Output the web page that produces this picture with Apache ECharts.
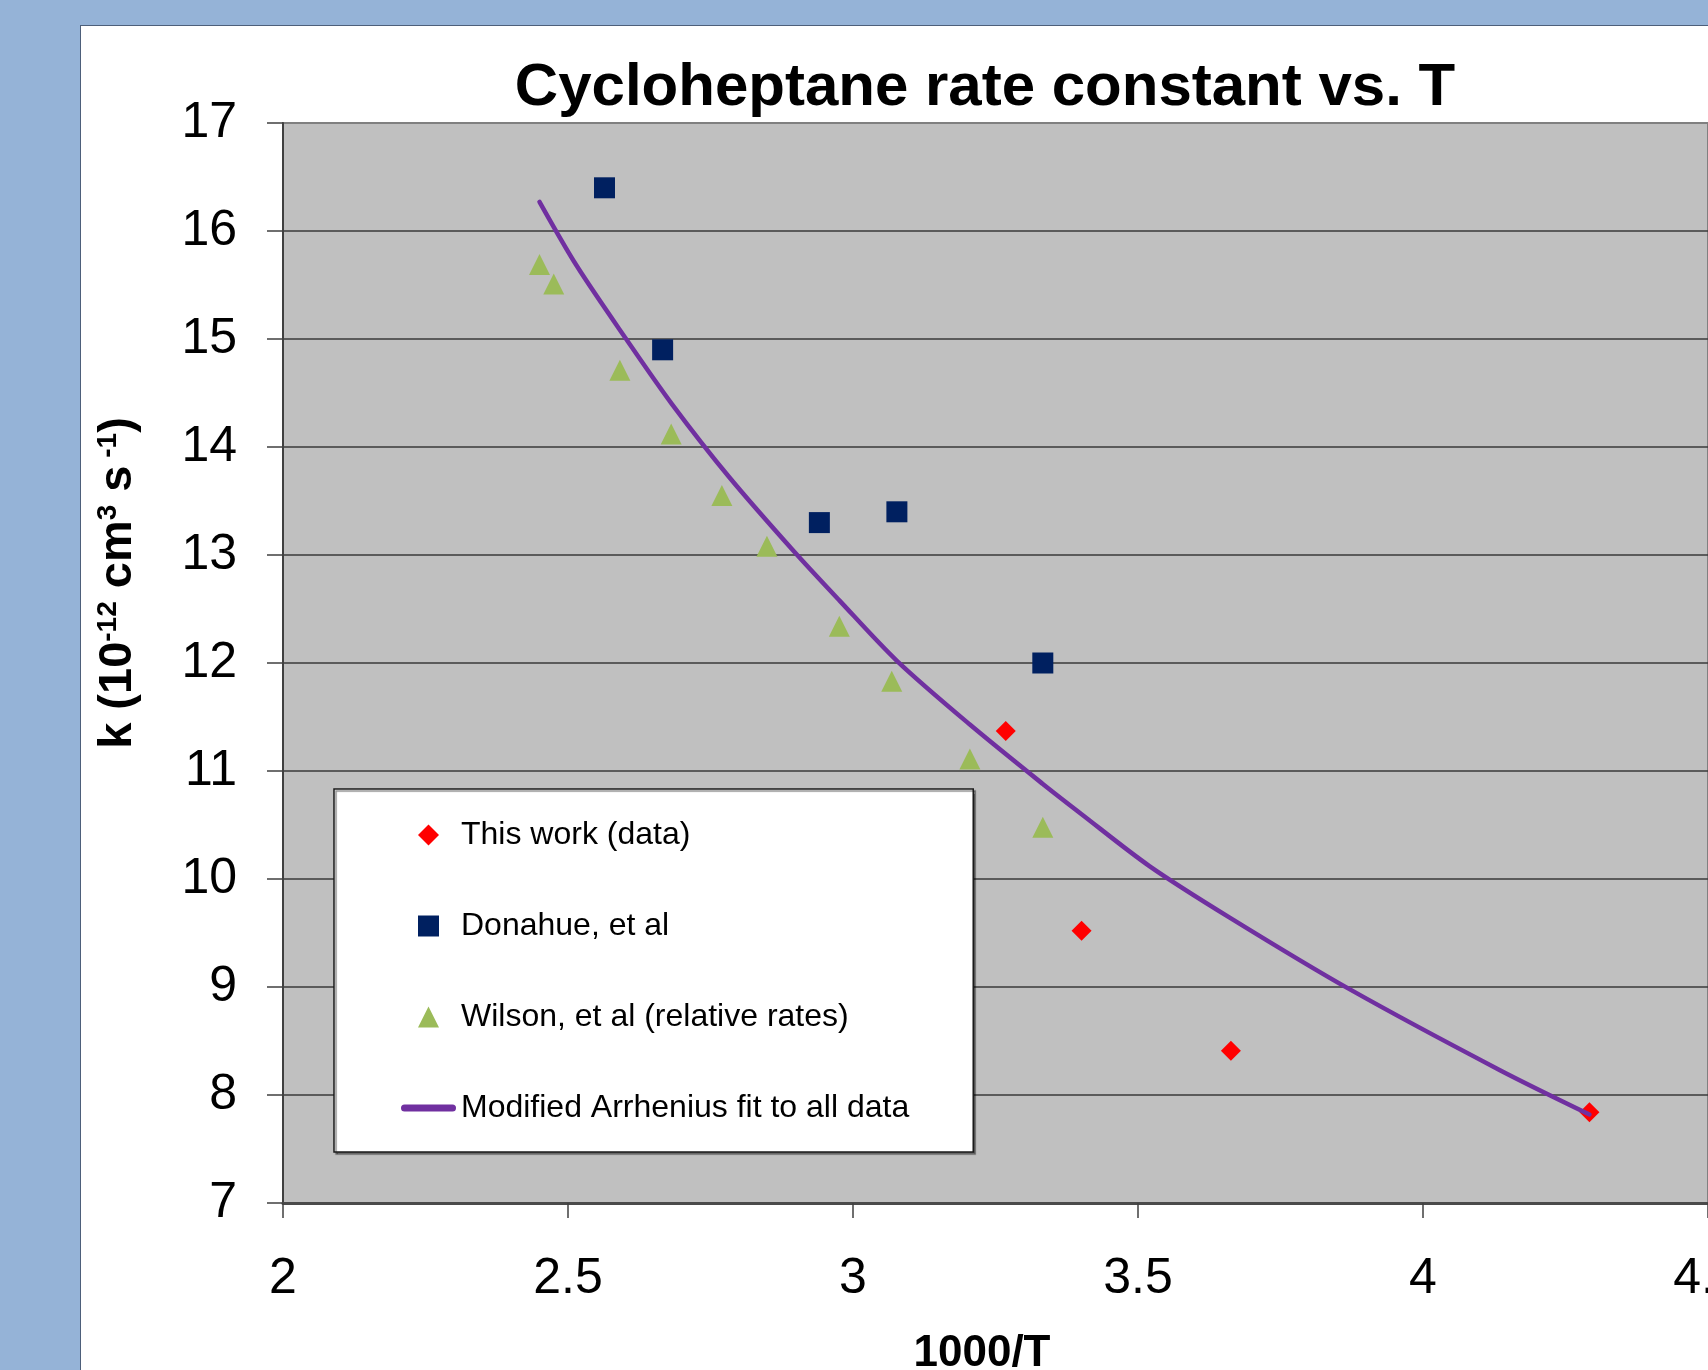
<!DOCTYPE html>
<html>
<head>
<meta charset="utf-8">
<title>Cycloheptane rate constant vs. T</title>
<script src="https://cdn.jsdelivr.net/npm/echarts@6.0.0/dist/echarts.min.js"></script>
<style>
  html, body { margin: 0; padding: 0; }
  body { width: 1708px; height: 1370px; background: #95B3D7; position: relative; overflow: hidden; }
  #panel { position: absolute; left: 80px; top: 25px; width: 1700px; height: 1400px; background: #fff; border-left: 1px solid #4d5f7a; border-top: 1px solid #4d5f7a; }
  #chart { position: absolute; left: 0; top: 0; width: 1708px; height: 1370px; }
</style>
</head>
<body>
<div id="panel"></div>
<div id="chart"></div>
<script>
// data (x = 1000/T, y = k in 1e-12 cm3 s-1)
const thisWorkX = [3.268, 3.401, 3.663, 4.292]
const thisWorkY = [11.37, 9.52, 8.41, 7.84]

const donahueX = [2.564, 2.666, 2.941, 3.077, 3.333]
const donahueY = [16.40, 14.90, 13.30, 13.40, 12.00]

const wilsonX = [2.450, 2.475, 2.591, 2.681, 2.770, 2.849, 2.976, 3.068, 3.205, 3.333]
const wilsonY = [15.69, 15.51, 14.71, 14.12, 13.55, 13.08, 12.34, 11.83, 11.11, 10.48]

// modified Arrhenius fit
const fitX = [2.450, 2.515, 2.602, 2.682, 2.783, 2.897, 2.976, 3.077, 3.205, 3.333, 3.401, 3.520, 3.663, 3.871, 4.135, 4.292]
const fitY = [16.27, 15.68, 15.00, 14.40, 13.72, 13.03, 12.58, 12.02, 11.43, 10.88, 10.60, 10.12, 9.636, 8.98, 8.23, 7.82]

const seriesNames = ['This work (data)', 'Donahue, et al', 'Wilson, et al (relative rates)', 'Modified Arrhenius fit to all data']
const xTicks = { min: 2, max: 4.5, step: 0.5 }
const yTicks = { min: 7, max: 17, step: 1 }

const FONT = '"Liberation Sans", Arial, Helvetica, sans-serif'

// legend icons (path icons keep their aspect inside the legend item box)
const ICON_DIAMOND = 'path://M10,0 L20,10 L10,20 L0,10 Z'
const ICON_SQUARE = 'path://M0,0 L20,0 L20,20 L0,20 Z'
const ICON_TRIANGLE = 'path://M10,0 L20,20 L0,20 Z'
const ICON_LINE = 'path://M3.5,0 L51.5,0 A3.5,3.5 0 0 1 51.5,7 L3.5,7 A3.5,3.5 0 0 1 3.5,0 Z'

function pairs(xs, ys) {
  return xs.map((x, i) => [x, ys[i]])
}

function drawChart() {
  const chart = echarts.init(document.getElementById('chart'), null, { renderer: 'canvas' })

  const option = {
    animation: false,
    title: {
      text: 'Cycloheptane rate constant vs. T',
      left: 980,
      top: 53,
      textAlign: 'center',
      textStyle: { fontSize: 60, fontWeight: 'bold', color: '#000', fontFamily: FONT }
    },
    grid: {
      left: 283,
      top: 123,
      right: 0,
      bottom: 167,
      show: true,
      backgroundColor: '#C0C0C0',
      borderColor: '#808080',
      borderWidth: 2,
      outerBoundsMode: 'none'
    },
    legend: {
      data: [
        { name: seriesNames[0], icon: ICON_DIAMOND },
        { name: seriesNames[1], icon: ICON_SQUARE },
        { name: seriesNames[2], icon: ICON_TRIANGLE },
        { name: seriesNames[3], icon: ICON_LINE }
      ],
      orient: 'vertical',
      left: 334,
      top: 789,
      padding: [30, 64, 28, 67],
      itemWidth: 55,
      itemHeight: 21,
      itemGap: 59,
      symbolKeepAspect: true,
      backgroundColor: '#fff',
      borderColor: '#1a1a1a',
      borderWidth: 1.5,
      shadowColor: 'rgba(0,0,0,0.45)',
      shadowOffsetX: 2,
      shadowOffsetY: 2,
      shadowBlur: 1,
      selectedMode: false,
      textStyle: { fontSize: 32, color: '#000', fontFamily: FONT }
    },
    xAxis: {
      type: 'value',
      min: xTicks.min,
      max: xTicks.max,
      interval: xTicks.step,
      axisLine: { show: true, onZero: false, lineStyle: { color: '#4a4a4a', width: 3 } },
      axisTick: { show: true, length: 15, lineStyle: { color: '#404040', width: 1.5 } },
      axisLabel: { fontSize: 50, color: '#000', margin: 51, fontFamily: FONT },
      splitLine: { show: false }
    },
    yAxis: {
      type: 'value',
      min: yTicks.min,
      max: yTicks.max,
      interval: yTicks.step,
      axisLine: { show: true, lineStyle: { color: '#404040', width: 2 } },
      axisTick: { show: true, length: 16, lineStyle: { color: '#404040', width: 1.5 } },
      axisLabel: { fontSize: 50, color: '#000', margin: 46, fontFamily: FONT },
      splitLine: {
        show: true,
        showMinLine: false,
        showMaxLine: false,
        lineStyle: { color: '#3a3a3a', width: 1.5 }
      }
    },
    graphic: [
      {
        type: 'text',
        x: 118,
        y: 583,
        rotation: Math.PI / 2,
        silent: true,
        style: {
          text: 'k (10{sup|-12} cm{sup|3} s{sup| -1})',
          fill: '#000',
          font: 'bold 47px ' + FONT,
          align: 'center',
          verticalAlign: 'middle',
          textAlign: 'center',
          textVerticalAlign: 'middle',
          rich: {
            sup: { fontSize: 28, fontWeight: 'bold', fontFamily: FONT, verticalAlign: 'top', fill: '#000' }
          }
        }
      },
      {
        type: 'text',
        x: 982,
        y: 1354,
        silent: true,
        style: {
          text: '1000/T',
          fill: '#000',
          font: 'bold 44px ' + FONT,
          align: 'center',
          verticalAlign: 'middle',
          textAlign: 'center',
          textVerticalAlign: 'middle'
        }
      }
    ],
    series: [
      {
        name: seriesNames[0],
        type: 'scatter',
        symbol: 'diamond',
        symbolSize: 20,
        itemStyle: { color: '#FF0000', opacity: 1 },
        data: pairs(thisWorkX, thisWorkY)
      },
      {
        name: seriesNames[1],
        type: 'scatter',
        symbol: 'rect',
        symbolSize: 21,
        itemStyle: { color: '#002060', opacity: 1 },
        data: pairs(donahueX, donahueY)
      },
      {
        name: seriesNames[2],
        type: 'scatter',
        symbol: 'triangle',
        symbolSize: 21,
        itemStyle: { color: '#9BBB59', opacity: 1 },
        data: pairs(wilsonX, wilsonY)
      },
      {
        name: seriesNames[3],
        type: 'line',
        symbol: 'none',
        showSymbol: false,
        smooth: 0.3,
        itemStyle: { color: '#7030A0' },
        lineStyle: { color: '#7030A0', width: 4.5, cap: 'round' },
        data: pairs(fitX, fitY)
      }
    ]
  }

  chart.setOption(option)
}

drawChart()
</script>
</body>
</html>
